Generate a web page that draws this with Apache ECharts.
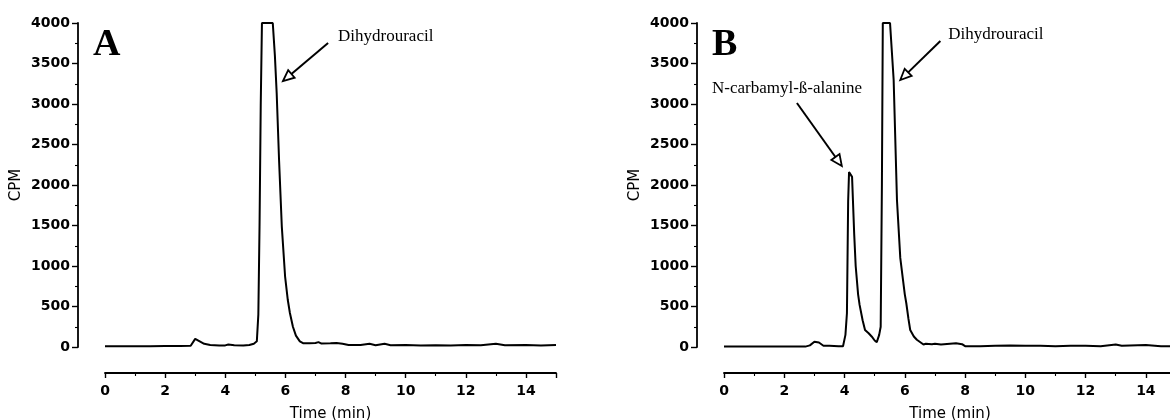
<!DOCTYPE html>
<html lang="en">
<head>
    <meta charset="UTF-8">
    <title>Radio-HPLC chromatograms</title>
    <script src="https://cdn.jsdelivr.net/npm/echarts@6/dist/echarts.min.js"></script>
    <style>
        html, body { margin: 0; padding: 0; background: #fff; }
    </style>
</head>
<body>
    <div id="main" style="width: 1170px;height: 420px"></div>
    <script type="application/javascript">
        // panel A - time (min) / CPM
        var timeA = [0, 0.5, 1, 1.5, 2, 2.5, 2.85, 3.0, 3.15, 3.3, 3.5, 3.8, 4.0, 4.1, 4.3, 4.6, 4.8, 4.95,
            5.05, 5.1, 5.14, 5.18, 5.22, 5.58, 5.65, 5.71, 5.79, 5.88, 5.99, 6.08, 6.15, 6.25, 6.35, 6.48,
            6.6, 6.8, 7.0, 7.1, 7.2, 7.5, 7.7, 7.9, 8.1, 8.5, 8.8, 9.0, 9.3, 9.5, 10, 10.5, 11, 11.5, 12,
            12.5, 13, 13.3, 14, 14.5, 15];
        var cpmA = [10, 10, 10, 10, 12, 12, 15, 100, 70, 40, 25, 20, 20, 30, 22, 18, 25, 40,
            70, 400, 1500, 3000, 4000, 4000, 3600, 3136, 2300, 1490, 870, 580, 420, 250, 140, 70,
            45, 45, 50, 60, 42, 45, 50, 40, 25, 25, 40, 22, 40, 22, 25, 20, 22, 20, 25,
            22, 40, 22, 25, 20, 25];

        // panel B
        var timeB = [0, 1, 2, 2.7, 2.85, 3.0, 3.15, 3.3, 3.5, 3.8, 3.95, 4.03, 4.08, 4.12, 4.15, 4.25,
            4.32, 4.37, 4.45, 4.5, 4.6, 4.68, 4.8, 4.9, 5.0, 5.07, 5.15, 5.2, 5.24, 5.27, 5.51, 5.63,
            5.74, 5.85, 5.94, 6.0, 6.05, 6.12, 6.18, 6.3, 6.4, 6.55, 6.62, 6.7, 6.9, 7.0, 7.2, 7.5,
            7.7, 7.9, 8.0, 8.5, 9, 9.5, 10, 10.5, 11, 11.5, 12, 12.5, 13, 13.2, 14, 14.5, 15];
        var cpmB = [5, 5, 5, 5, 20, 65, 55, 15, 15, 10, 10, 150, 420, 1800, 2160, 2100,
            1400, 1000, 650, 520, 330, 210, 170, 130, 80, 60, 150, 250, 2000, 4000, 4000, 3300,
            1815, 1100, 830, 650, 540, 350, 210, 130, 90, 50, 30, 40, 35, 40, 30, 40,
            45, 35, 10, 10, 15, 20, 15, 15, 10, 15, 15, 10, 30, 15, 25, 10, 10];

        var yTicks = [0, 500, 1000, 1500, 2000, 2500, 3000, 3500, 4000];
        var xTicks = [0, 2, 4, 6, 8, 10, 12, 14];

        // annotations, in data coords: [grid, text, textX, textY, tailX, tailY, tipX, tipY]
        var notes = [
            [0, 'Dihydrouracil', 7.75, 3830, 7.42, 3753, 5.92, 3284],
            [1, 'N-carbamyl-\u00df-alanine', -0.4, 3185, 2.42, 3012, 3.91, 2235],
            [1, 'Dihydrouracil', 7.44, 3852, 7.18, 3778, 5.85, 3296]
        ];
        var panels = [[0, 'A'], [1, 'B']];

        function pairs(xs, ys) {
            var out = [];
            for (var i = 0; i < xs.length; i++) out.push([xs[i], ys[i]]);
            return out;
        }

        var sans = 'DejaVu Sans';
        var serif = 'Liberation Serif';

        function xAxisFor(idx) {
            return {
                type: 'value', gridIndex: idx, min: 0, max: 15, interval: 2,
                offset: 26,
                axisLine: { show: true, onZero: false, lineStyle: { color: '#000', width: 1.8 } },
                axisTick: { show: true, length: 5, lineStyle: { color: '#000', width: 1.4 } },
                minorTick: { show: true, splitNumber: 2, length: 3, lineStyle: { color: '#000', width: 1.1 } },
                splitLine: { show: false },
                axisLabel: {
                    color: '#000', fontFamily: sans, fontWeight: 'bold', fontSize: 14, margin: 11,
                    formatter: function (v) { return xTicks.indexOf(v) >= 0 ? String(v) : ''; }
                },
                name: 'Time (min)', nameLocation: 'middle', nameGap: 34,
                nameTextStyle: { color: '#000', fontFamily: sans, fontSize: 15 }
            };
        }

        function yAxisFor(idx) {
            return {
                type: 'value', gridIndex: idx, min: 0, max: 4000, interval: 500,
                offset: 27,
                axisLine: { show: true, onZero: false, lineStyle: { color: '#000', width: 1.8 } },
                axisTick: { show: true, length: 6, lineStyle: { color: '#000', width: 1.4 } },
                minorTick: { show: true, splitNumber: 2, length: 3, lineStyle: { color: '#000', width: 1.1 } },
                splitLine: { show: false },
                axisLabel: {
                    color: '#000', fontFamily: sans, fontWeight: 'bold', fontSize: 14, margin: 8,
                    formatter: function (v) { return yTicks.indexOf(v) >= 0 ? String(v) : ''; }
                },
                name: 'CPM', nameLocation: 'middle', nameGap: 54,
                nameTextStyle: { color: '#000', fontFamily: sans, fontSize: 15 }
            };
        }

        function lineSeries(idx, data) {
            return {
                type: 'line', xAxisIndex: idx, yAxisIndex: idx,
                data: data, showSymbol: false, symbol: 'none',
                lineStyle: { color: '#000', width: 2 },
                animation: false
            };
        }

        var myChart = echarts.init(document.getElementById('main'));
        var option = {
            backgroundColor: '#fff',
            animation: false,
            grid: [
                { left: 105, top: 23, width: 451, height: 324, outerBoundsMode: 'none' },
                { left: 724, top: 23, width: 452, height: 324, outerBoundsMode: 'none' }
            ],
            xAxis: [xAxisFor(0), xAxisFor(1)],
            yAxis: [yAxisFor(0), yAxisFor(1)],
            series: [lineSeries(0, pairs(timeA, cpmA)), lineSeries(1, pairs(timeB, cpmB))]
        };
        myChart.setOption(option);

        // arrows and labels placed through the axes' own scales
        var g = [];
        function px(idx, x, y) {
            return myChart.convertToPixel({ gridIndex: idx }, [x, y]);
        }
        panels.forEach(function (p) {
            var pt = px(p[0], -0.4, 3728);
            g.push({
                type: 'text', x: pt[0], y: pt[1],
                style: { text: p[1], font: 'bold 38px ' + serif, fill: '#000', textVerticalAlign: 'middle' }
            });
        });
        notes.forEach(function (n) {
            var t = px(n[0], n[2], n[3]);
            var a = px(n[0], n[4], n[5]);
            var b = px(n[0], n[6], n[7]);
            var dx = b[0] - a[0], dy = b[1] - a[1];
            var len = Math.sqrt(dx * dx + dy * dy);
            var ux = dx / len, uy = dy / len;
            var hl = 11, hw = 5;
            var base = [b[0] - ux * hl, b[1] - uy * hl];
            g.push({
                type: 'text', x: t[0], y: t[1],
                style: { text: n[1], font: '17px ' + serif, fill: '#000', textVerticalAlign: 'middle' }
            });
            g.push({
                type: 'line', shape: { x1: a[0], y1: a[1], x2: base[0], y2: base[1] },
                style: { stroke: '#000', lineWidth: 2 }
            });
            g.push({
                type: 'polygon',
                shape: { points: [b, [base[0] - uy * hw, base[1] + ux * hw], [base[0] + uy * hw, base[1] - ux * hw]] },
                style: { fill: '#fff', stroke: '#000', lineWidth: 1.8 }
            });
        });
        myChart.setOption({ graphic: g });
    </script>
</body>
</html>
